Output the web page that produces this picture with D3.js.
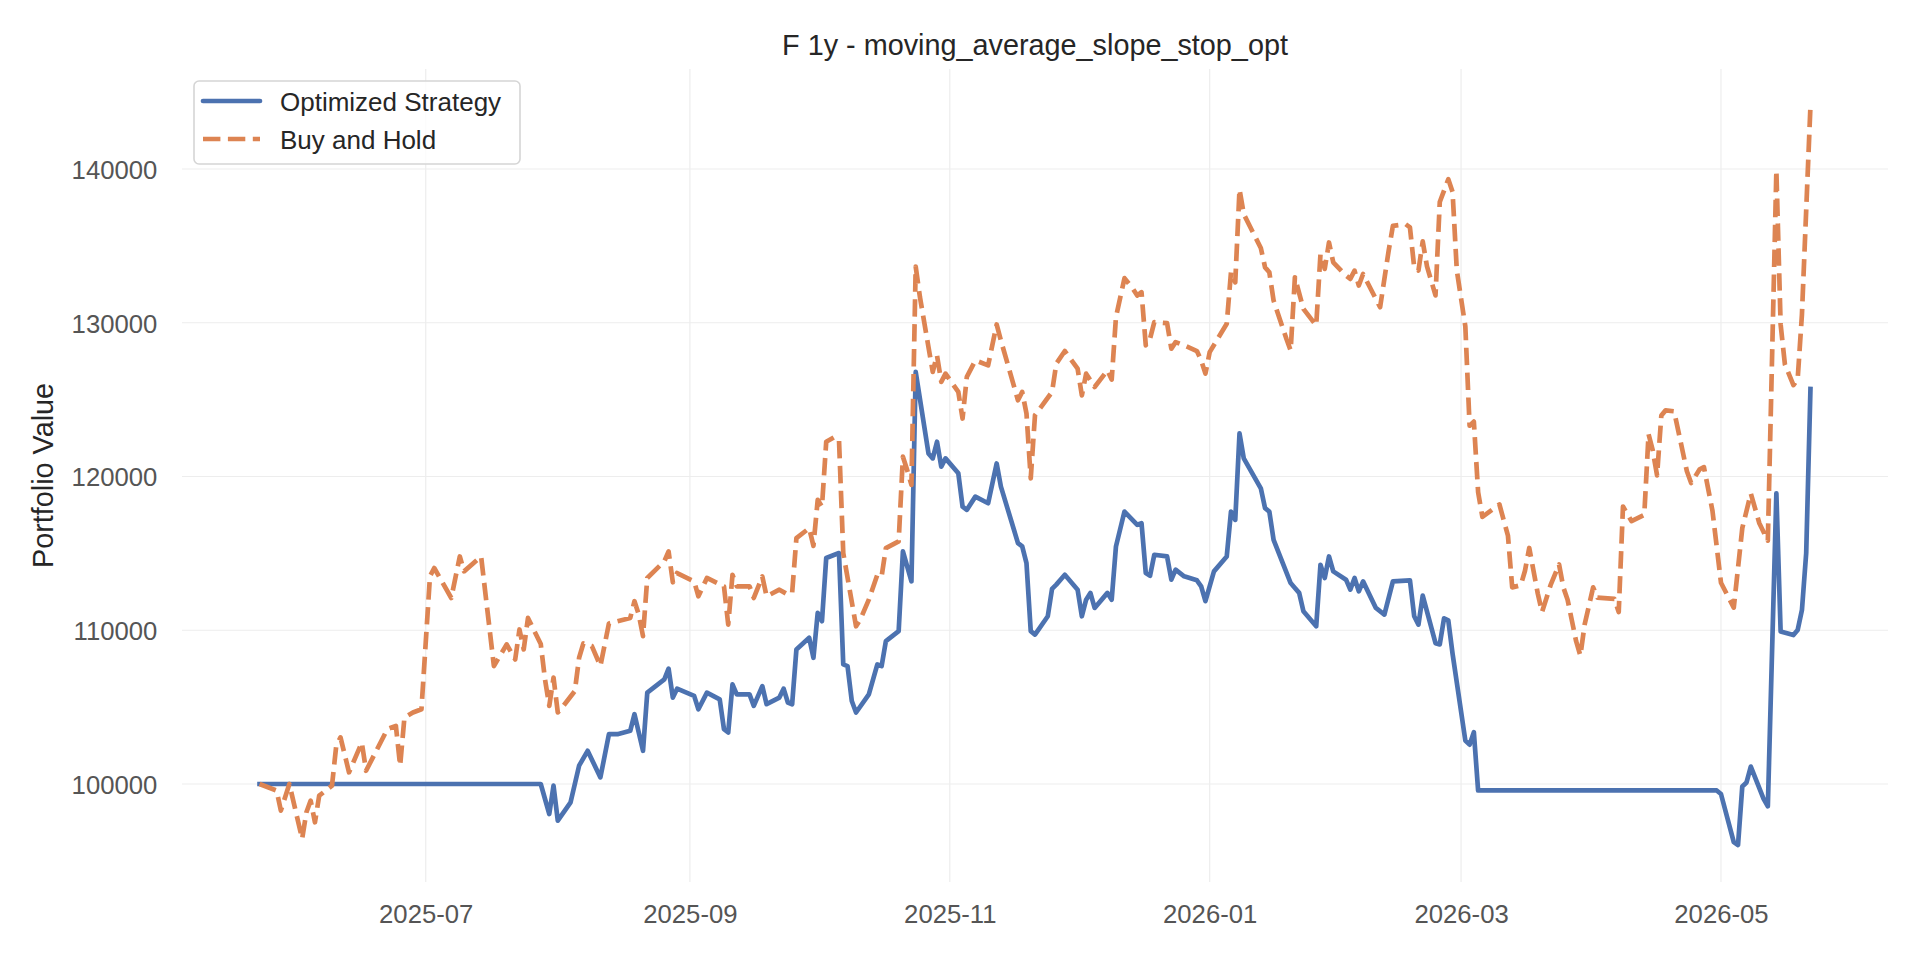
<!DOCTYPE html>
<html>
<head>
<meta charset="utf-8">
<title>F 1y - moving_average_slope_stop_opt</title>
<script src="https://cdn.jsdelivr.net/npm/d3@7"></script>
<style>
  html, body { margin: 0; padding: 0; background: #fff; }
  svg { display: block; }
  text { font-family: "Liberation Sans", Arial, sans-serif; }
</style>
</head>
<body>
<svg id="chart"></svg>
<script>
// Optimized Strategy
const stratDates = [
  '2025-05-23', '2025-07-28', '2025-07-30', '2025-07-31', '2025-08-01', '2025-08-04', '2025-08-06', '2025-08-08',
  '2025-08-11', '2025-08-13', '2025-08-15', '2025-08-18', '2025-08-19', '2025-08-21', '2025-08-22', '2025-08-26',
  '2025-08-27', '2025-08-28', '2025-08-29', '2025-09-02', '2025-09-03', '2025-09-05', '2025-09-08', '2025-09-09',
  '2025-09-10', '2025-09-11', '2025-09-12', '2025-09-15', '2025-09-16', '2025-09-18', '2025-09-19', '2025-09-22',
  '2025-09-23', '2025-09-24', '2025-09-25', '2025-09-26', '2025-09-29', '2025-09-30', '2025-10-01', '2025-10-02',
  '2025-10-03', '2025-10-06', '2025-10-07', '2025-10-08', '2025-10-09', '2025-10-10', '2025-10-13', '2025-10-15',
  '2025-10-16', '2025-10-17', '2025-10-20', '2025-10-21', '2025-10-23', '2025-10-24', '2025-10-27', '2025-10-28',
  '2025-10-29', '2025-10-30', '2025-10-31', '2025-11-03', '2025-11-04', '2025-11-05', '2025-11-07', '2025-11-10',
  '2025-11-12', '2025-11-13', '2025-11-17', '2025-11-18', '2025-11-19', '2025-11-20', '2025-11-21', '2025-11-24',
  '2025-11-25', '2025-11-26', '2025-11-28', '2025-12-01', '2025-12-02', '2025-12-03', '2025-12-04', '2025-12-05',
  '2025-12-08', '2025-12-09', '2025-12-10', '2025-12-12', '2025-12-15', '2025-12-16', '2025-12-17', '2025-12-18',
  '2025-12-19', '2025-12-22', '2025-12-23', '2025-12-24', '2025-12-26', '2025-12-29', '2025-12-30', '2025-12-31',
  '2026-01-02', '2026-01-05', '2026-01-06', '2026-01-07', '2026-01-08', '2026-01-09', '2026-01-13', '2026-01-14',
  '2026-01-15', '2026-01-16', '2026-01-20', '2026-01-21', '2026-01-22', '2026-01-23', '2026-01-26', '2026-01-27',
  '2026-01-28', '2026-01-29', '2026-01-30', '2026-02-02', '2026-02-03', '2026-02-04', '2026-02-05', '2026-02-06',
  '2026-02-09', '2026-02-11', '2026-02-13', '2026-02-17', '2026-02-18', '2026-02-19', '2026-02-20', '2026-02-23',
  '2026-02-24', '2026-02-25', '2026-02-26', '2026-02-27', '2026-03-02', '2026-03-03', '2026-03-04', '2026-03-05',
  '2026-04-30', '2026-05-01', '2026-05-04', '2026-05-05', '2026-05-06', '2026-05-07', '2026-05-08', '2026-05-11',
  '2026-05-12', '2026-05-14', '2026-05-15', '2026-05-18', '2026-05-19', '2026-05-20', '2026-05-21', '2026-05-22'
]
const stratValues = [
  100000, 100000, 98050, 99890, 97620, 98810, 101190, 102160,
  100430, 103240, 103240, 103460, 104540, 102160, 105940, 106810,
  107500, 105620, 106200, 105730, 104860, 105940, 105510, 103570,
  103350, 106480, 105830, 105830, 105080, 106370, 105190, 105620,
  106200, 105300, 105190, 108750, 109510, 108210, 111130, 110590,
  114700, 115020, 107780, 107670, 105400, 104650, 105830, 107780,
  107670, 109290, 109940, 115130, 113180, 126800, 121500, 121180,
  122260, 120640, 121180, 120210, 118040, 117830, 118690, 118260,
  120850, 119340, 115670, 115450, 114370, 109940, 109720, 110910,
  112690, 112970, 113610, 112640, 110910, 111990, 112430, 111450,
  112430, 111990, 115450, 117720, 116860, 116960, 113720, 113550,
  114910, 114800, 113290, 113940, 113510, 113250, 112860, 111890,
  113830, 114800, 117720, 117180, 122800, 121180, 119230, 117940,
  117720, 115880, 113070, 112750, 112430, 111240, 110260, 114260,
  113400, 114800, 113830, 113290, 112640, 113400, 112530, 113180,
  111450, 111020, 113180, 113250, 110910, 110370, 112250, 109160,
  109080, 110770, 110640, 108480, 102830, 102560, 103370, 99580,
  99580, 99350, 96220, 96030, 99840, 100100, 101130, 99030,
  98550, 118900, 109920, 109690, 110020, 111310, 115020, 125690
]

// Buy and Hold
const holdDates = [
  '2025-05-23', '2025-05-27', '2025-05-28', '2025-05-30', '2025-06-02', '2025-06-03', '2025-06-04', '2025-06-05',
  '2025-06-06', '2025-06-09', '2025-06-10', '2025-06-11', '2025-06-13', '2025-06-16', '2025-06-17', '2025-06-22',
  '2025-06-24', '2025-06-25', '2025-06-26', '2025-06-28', '2025-06-30', '2025-07-02', '2025-07-03', '2025-07-07',
  '2025-07-09', '2025-07-10', '2025-07-14', '2025-07-17', '2025-07-20', '2025-07-22', '2025-07-23', '2025-07-24',
  '2025-07-25', '2025-07-28', '2025-07-29', '2025-07-30', '2025-07-31', '2025-08-01', '2025-08-02', '2025-08-05',
  '2025-08-06', '2025-08-07', '2025-08-09', '2025-08-11', '2025-08-13', '2025-08-18', '2025-08-19', '2025-08-20',
  '2025-08-21', '2025-08-22', '2025-08-26', '2025-08-27', '2025-08-28', '2025-08-29', '2025-09-02', '2025-09-03',
  '2025-09-05', '2025-09-09', '2025-09-10', '2025-09-11', '2025-09-12', '2025-09-15', '2025-09-16', '2025-09-18',
  '2025-09-19', '2025-09-22', '2025-09-24', '2025-09-25', '2025-09-26', '2025-09-29', '2025-09-30', '2025-10-01',
  '2025-10-02', '2025-10-03', '2025-10-05', '2025-10-06', '2025-10-07', '2025-10-10', '2025-10-11', '2025-10-13',
  '2025-10-15', '2025-10-16', '2025-10-17', '2025-10-20', '2025-10-21', '2025-10-22', '2025-10-23', '2025-10-24',
  '2025-10-25', '2025-10-27', '2025-10-28', '2025-10-29', '2025-10-30', '2025-10-31', '2025-11-03', '2025-11-04',
  '2025-11-05', '2025-11-07', '2025-11-10', '2025-11-12', '2025-11-13', '2025-11-17', '2025-11-18', '2025-11-19',
  '2025-11-20', '2025-11-21', '2025-11-25', '2025-11-26', '2025-11-28', '2025-12-01', '2025-12-02', '2025-12-03',
  '2025-12-05', '2025-12-08', '2025-12-09', '2025-12-10', '2025-12-12', '2025-12-14', '2025-12-15', '2025-12-16',
  '2025-12-17', '2025-12-18', '2025-12-19', '2025-12-22', '2025-12-23', '2025-12-24', '2025-12-26', '2025-12-29',
  '2025-12-30', '2025-12-31', '2026-01-01', '2026-01-05', '2026-01-06', '2026-01-07', '2026-01-08', '2026-01-09',
  '2026-01-13', '2026-01-14', '2026-01-15', '2026-01-16', '2026-01-19', '2026-01-20', '2026-01-21', '2026-01-23',
  '2026-01-26', '2026-01-27', '2026-01-28', '2026-01-29', '2026-01-30', '2026-02-02', '2026-02-03', '2026-02-04',
  '2026-02-05', '2026-02-06', '2026-02-10', '2026-02-12', '2026-02-13', '2026-02-16', '2026-02-17', '2026-02-18',
  '2026-02-19', '2026-02-20', '2026-02-21', '2026-02-23', '2026-02-24', '2026-02-26', '2026-02-27', '2026-02-28',
  '2026-03-02', '2026-03-03', '2026-03-04', '2026-03-05', '2026-03-06', '2026-03-10', '2026-03-12', '2026-03-13',
  '2026-03-15', '2026-03-16', '2026-03-17', '2026-03-19', '2026-03-20', '2026-03-22', '2026-03-24', '2026-03-25',
  '2026-03-26', '2026-03-28', '2026-03-29', '2026-03-30', '2026-04-01', '2026-04-02', '2026-04-06', '2026-04-07',
  '2026-04-08', '2026-04-10', '2026-04-13', '2026-04-14', '2026-04-15', '2026-04-16', '2026-04-17', '2026-04-18',
  '2026-04-20', '2026-04-23', '2026-04-24', '2026-04-26', '2026-04-27', '2026-04-29', '2026-05-01', '2026-05-04',
  '2026-05-06', '2026-05-08', '2026-05-10', '2026-05-12', '2026-05-14', '2026-05-15', '2026-05-16', '2026-05-18',
  '2026-05-19', '2026-05-20', '2026-05-22'
]
const holdValues = [
  100000, 99570, 98270, 100000, 96430, 98160, 98920, 97510,
  99240, 99890, 102490, 103030, 100760, 102700, 100860, 103570,
  103780, 101190, 104320, 104650, 104860, 113510, 114050, 112100,
  114800, 113830, 114800, 107670, 109080, 108100, 110050, 108750,
  110800, 109100, 106800, 105080, 106920, 104650, 104970, 106050,
  108210, 109140, 108970, 107670, 110440, 110800, 111890, 111020,
  109620, 113400, 114480, 115130, 113120, 113720, 113180, 112210,
  113400, 112860, 110370, 113610, 112860, 112860, 112100, 113500,
  112210, 112640, 112320, 112430, 115990, 116640, 115490, 118480,
  118040, 122260, 122580, 122370, 115020, 110260, 110700, 111990,
  113610, 113500, 115340, 115780, 121290, 120420, 119450, 133650,
  131660, 128420, 126800, 127880, 126150, 126690, 125500, 123770,
  126480, 127550, 127230, 129890, 128850, 124960, 125500, 124100,
  119880, 123990, 125500, 127340, 128160, 127010, 125280, 126690,
  125820, 126910, 126300, 130360, 132900, 132200, 131770, 131990,
  128530, 128960, 130040, 129970, 128310, 128740, 128530, 128160,
  127550, 126690, 128090, 129930, 133280, 132630, 138680, 137060,
  134860, 133600, 133280, 131440, 128960, 128200, 132960, 130900,
  129820, 134460, 133500, 135220, 133930, 133060, 132850, 133390,
  132420, 133170, 131010, 134680, 136300, 136410, 136200, 133600,
  133400, 135290, 133670, 131780, 137850, 139330, 138520, 133400,
  129760, 123300, 123570, 118990, 117370, 118180, 116160, 112790,
  112930, 113870, 115350, 112390, 111180, 112930, 114280, 112790,
  111990, 109290, 108350, 110370, 112790, 112120, 112040, 111180,
  118050, 117100, 117510, 122760, 121680, 120070, 123970, 124300,
  124240, 120340, 119580, 120470, 120610, 117770, 113090, 111470,
  116640, 118900, 116960, 115830, 139900, 129890, 127300, 125940,
  126330, 130530, 144100
]

const xTickDates = ['2025-07-01', '2025-09-01', '2025-11-01', '2026-01-01', '2026-03-01', '2026-05-01']
const yTickValues = [100000, 110000, 120000, 130000, 140000]
const seriesNames = ['Optimized Strategy', 'Buy and Hold']

const config = {
  width: 1920,
  height: 960,
  margin: { top: 69, right: 32, bottom: 78, left: 182 },
  title: 'F 1y - moving_average_slope_stop_opt',
  yLabel: 'Portfolio Value',
  colors: ['#4c72b0', '#dd8452'],
  lineWidth: 4.7
}

const parse = d3.timeParse('%Y-%m-%d')

function pad(extent, frac) {
  const span = extent[1] - extent[0]
  return [extent[0] - span * frac, extent[1] + span * frac]
}

function draw() {
  const { width, height, margin, colors, lineWidth } = config
  const w = width - margin.left - margin.right
  const h = height - margin.top - margin.bottom

  const strat = stratDates.map((d, i) => ({ date: parse(d), value: stratValues[i] }))
  const hold = holdDates.map((d, i) => ({ date: parse(d), value: holdValues[i] }))
  const all = strat.concat(hold)

  // matplotlib-like 5% margins around the data
  const xExt = d3.extent(all, d => d.date).map(d => +d)
  const xDom = pad(xExt, 0.05).map(t => new Date(t))
  const yDom = pad(d3.extent(all, d => d.value), 0.05)

  const x = d3.scaleTime().domain(xDom).range([0, w])
  const y = d3.scaleLinear().domain(yDom).range([h, 0])

  const svg = d3.select('#chart')
    .attr('width', width)
    .attr('height', height)
  svg.append('rect').attr('width', width).attr('height', height).attr('fill', '#fff')

  const chart = svg.append('g')
    .attr('transform', `translate(${margin.left},${margin.top})`)

  const xTicks = xTickDates.map(parse)

  // grid
  const grid = chart.append('g').attr('class', 'grid')
  grid.selectAll('line.gx')
    .data(xTicks)
    .enter().append('line')
    .attr('class', 'gx')
    .attr('x1', d => x(d)).attr('x2', d => x(d))
    .attr('y1', 0).attr('y2', h)
  grid.selectAll('line.gy')
    .data(yTickValues)
    .enter().append('line')
    .attr('class', 'gy')
    .attr('x1', 0).attr('x2', w)
    .attr('y1', d => y(d)).attr('y2', d => y(d))
  grid.selectAll('line')
    .attr('stroke', '#ededed')
    .attr('stroke-width', 1.2)

  // axes
  const xAxis = chart.append('g')
    .attr('class', 'axis axis-x')
    .attr('transform', `translate(0,${h})`)
    .call(d3.axisBottom(x)
      .tickValues(xTicks)
      .tickFormat(d3.timeFormat('%Y-%m'))
      .tickSize(0)
      .tickPadding(22.8))
  const yAxis = chart.append('g')
    .attr('class', 'axis axis-y')
    .call(d3.axisLeft(y)
      .tickValues(yTickValues)
      .tickFormat(d3.format('d'))
      .tickSize(0)
      .tickPadding(24.7))
  yAxis.selectAll('text').attr('dy', '0.36em')

  chart.selectAll('.axis .domain').remove()
  chart.selectAll('.axis text')
    .attr('font-family', '"Liberation Sans", Arial, sans-serif')
    .attr('font-size', 25.7)
    .attr('fill', '#555555')

  // lines
  const line = d3.line()
    .x(d => x(d.date))
    .y(d => y(d.value))

  chart.append('path')
    .datum(strat)
    .attr('fill', 'none')
    .attr('stroke', colors[0])
    .attr('stroke-width', lineWidth)
    .attr('stroke-linejoin', 'round')
    .attr('stroke-linecap', 'square')
    .attr('d', line)

  chart.append('path')
    .datum(hold)
    .attr('fill', 'none')
    .attr('stroke', colors[1])
    .attr('stroke-width', lineWidth)
    .attr('stroke-linejoin', 'round')
    .attr('stroke-dasharray', '17.4,7.5')
    .attr('d', line)

  // title and y label
  svg.append('text')
    .attr('x', margin.left + w / 2)
    .attr('y', 55)
    .attr('text-anchor', 'middle')
    .attr('font-size', 28.8)
    .attr('fill', '#262626')
    .text(config.title)

  svg.append('text')
    .attr('transform', `translate(53,${margin.top + h / 2}) rotate(-90)`)
    .attr('text-anchor', 'middle')
    .attr('font-size', 28.8)
    .attr('fill', '#262626')
    .text(config.yLabel)

  // legend
  const legend = svg.append('g').attr('class', 'legend').attr('transform', 'translate(194,81)')
  legend.append('rect')
    .attr('width', 326)
    .attr('height', 83)
    .attr('rx', 5)
    .attr('fill', '#fff')
    .attr('fill-opacity', 0.8)
    .attr('stroke', '#d5d5d5')
    .attr('stroke-width', 1.6)

  const item = legend.selectAll('g.item')
    .data(seriesNames)
    .enter().append('g')
    .attr('class', 'item')
    .attr('transform', (d, i) => `translate(0,${i === 0 ? 20 : 58})`)
  item.append('line')
    .attr('x1', 9).attr('x2', 66)
    .attr('stroke', (d, i) => colors[i])
    .attr('stroke-width', lineWidth)
    .attr('stroke-linecap', (d, i) => i === 0 ? 'round' : 'butt')
    .attr('stroke-dasharray', (d, i) => i === 0 ? null : '17.4,7.5')
  item.append('text')
    .attr('x', 86)
    .attr('y', 9.5)
    .attr('font-size', 26)
    .attr('fill', '#262626')
    .text(d => d)
}

draw()
</script>
</body>
</html>
